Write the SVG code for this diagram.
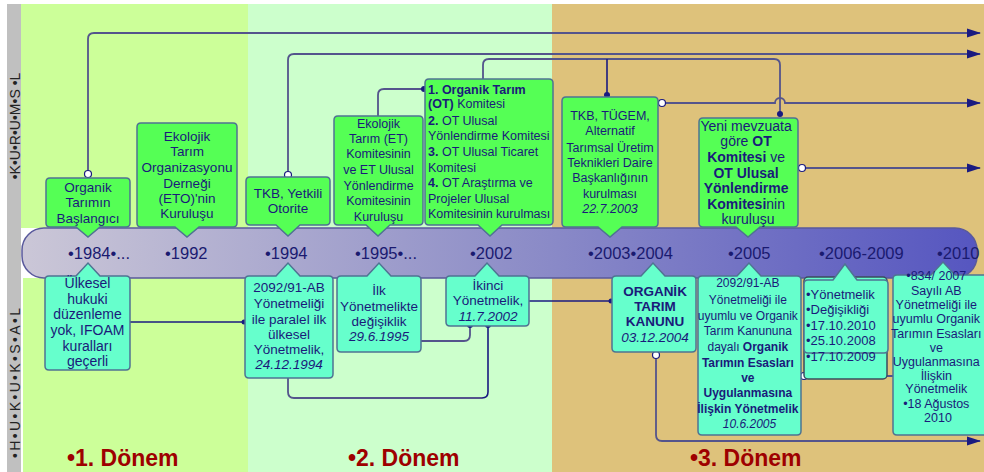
<svg xmlns="http://www.w3.org/2000/svg" width="984" height="472" viewBox="0 0 984 472">
<style>
.t{font-family:"Liberation Sans",Arial,sans-serif;fill:#1a1a7a}
.up{fill:#55ff55;stroke:#4f7392;stroke-width:1.5}
.lo{fill:#66ffcc;stroke:#4f7392;stroke-width:1.5}
.c{fill:none;stroke:#54548c;stroke-width:1.8}
.cd{fill:none;stroke:#1a1a80;stroke-width:1.6}
.dot{fill:#1a1a80}
.oc{fill:#ffffff;stroke:#1a1a80;stroke-width:1.2}
.yr{font-family:"Liberation Sans",Arial,sans-serif;font-size:16.5px;fill:#1a1a70}
.era{font-family:"Liberation Sans",Arial,sans-serif;font-size:23px;font-weight:bold;fill:#9e0000}
.side{font-family:"Liberation Sans",Arial,sans-serif;font-size:14px;fill:#222}
.b{font-weight:bold}
.i{font-style:italic}
</style>
<defs>
<linearGradient id="bar" x1="22" y1="0" x2="977" y2="0" gradientUnits="userSpaceOnUse">
<stop offset="0" stop-color="#cbc7d7"/>
<stop offset="0.5" stop-color="#9090c8"/>
<stop offset="1" stop-color="#5656c0"/>
</linearGradient>
<marker id="arr" markerUnits="userSpaceOnUse" markerWidth="14" markerHeight="10" refX="13" refY="5" orient="auto">
<path d="M0,0.5 L14,5 L0,9.5 z" fill="#1a1a80"/>
</marker>
</defs>
<g id="background">
<rect x="0" y="0" width="984" height="472" fill="#ffffff"/>
<rect x="7" y="4" width="14" height="468" fill="#c0c0c0"/>
<rect x="21" y="4" width="227" height="224" fill="#ccff99"/>
<rect x="23" y="278" width="225" height="194" fill="#ccff99"/>
<rect x="248" y="4" width="304" height="468" fill="#ccffcc"/>
<rect x="552" y="4" width="432" height="468" fill="#dec27b"/>
<text class="side" transform="translate(19.5,126) rotate(-90)" text-anchor="middle">•K•U•R•U•M•S •L</text>
<text class="side" transform="translate(19.5,383) rotate(-90)" text-anchor="middle" textLength="150" lengthAdjust="spacing">•H•U•K•U•K•S•A•L</text>
</g>
<g id="timeline">
<rect x="22" y="228" width="955" height="50" rx="22" fill="url(#bar)" stroke="#5a5a9c" stroke-width="1.5"/>
<text class="yr" x="68" y="259">•1984•...</text>
<text class="yr" x="165" y="259">•1992</text>
<text class="yr" x="265" y="259">•1994</text>
<text class="yr" x="355" y="259">•1995•...</text>
<text class="yr" x="470" y="259">•2002</text>
<text class="yr" x="588" y="259">•2003•2004</text>
<text class="yr" x="728" y="259">•2005</text>
<text class="yr" x="819" y="259">•2006-2009</text>
<text class="yr" x="937" y="259">•2010</text>
</g>
<g id="connectors">
<path class="c" d="M88,174 V39 Q88,33 94,33 H980" marker-end="url(#arr)"/>
<path class="c" d="M288,175 V60 Q288,54 294,54 H980" marker-end="url(#arr)"/>
<path class="c" d="M483,79 V65 Q483,59 489,59 H774 Q780,59 780,65 V114"/>
<path class="cd" d="M607,59 V95"/>
<path class="c" d="M662,103 H775 A5,5 0 0 1 785,103 H980" marker-end="url(#arr)"/>
<path class="c" d="M802,168 H980" marker-end="url(#arr)"/>
<path class="c" d="M378,116 V95 Q378,89 384,89 H424"/>
<path class="cd" d="M130,322 H244"/>
<path class="c" d="M288,378 V392 Q288,398 294,398 H482"/>
<path class="cd" d="M482,398 Q488,398 488,392 V326"/>
<path class="c" d="M421,341 H464 Q470,341 470,335 V325"/>
<path class="cd" d="M529,301 H611"/>
<path class="c" d="M656,355 V435 Q656,441 662,441 H980" marker-end="url(#arr)"/>
<path class="c" d="M801,376 H893"/>
<circle class="oc" cx="88" cy="174" r="3.5"/>
<circle class="oc" cx="288" cy="175" r="3.5"/>
<circle class="dot" cx="780" cy="114" r="3"/>
<circle class="dot" cx="607" cy="95" r="3"/>
<circle class="oc" cx="662" cy="103" r="3.5"/>
<circle class="oc" cx="802" cy="168" r="3.5"/>
<circle class="dot" cx="424" cy="89" r="3"/>
<circle class="dot" cx="244" cy="322" r="2.5"/>
<circle class="dot" cx="488" cy="325" r="3"/>
<circle class="dot" cx="470" cy="325" r="3"/>
<circle class="dot" cx="611" cy="301" r="2.5"/>
<circle class="oc" cx="656" cy="355" r="3.5"/>
<circle class="oc" cx="804" cy="376" r="3.5"/>
</g>
<g id="n1">
<path class="up" d="M50,178 H126 Q130,178 130,182 V223 Q130,227 126,227 H100 L88,237 L76,227 H50 Q46,227 46,223 V182 Q46,178 50,178 Z"/>
<text class="t" font-size="13.5" text-anchor="middle"><tspan x="88" y="192">Organik</tspan><tspan x="88" y="207">Tarımın</tspan><tspan x="88" y="223">Başlangıcı</tspan></text>
</g>
<g id="n2">
<path class="up" d="M141,123 H233 Q237,123 237,127 V223 Q237,227 233,227 H199 L187,237 L175,227 H141 Q137,227 137,223 V127 Q137,123 141,123 Z"/>
<text class="t" font-size="13.5" text-anchor="middle"><tspan x="187" y="141">Ekolojik</tspan><tspan x="187" y="156">Tarım</tspan><tspan x="187" y="172">Organizasyonu</tspan><tspan x="187" y="188">Derneği</tspan><tspan x="187" y="203">(ETO)'nin</tspan><tspan x="187" y="218">Kuruluşu</tspan></text>
</g>
<g id="n3">
<path class="up" d="M250,177 H326 Q330,177 330,181 V221 Q330,225 326,225 H300 L288,236 L276,225 H250 Q246,225 246,221 V181 Q246,177 250,177 Z"/>
<text class="t" font-size="13.5" text-anchor="middle"><tspan x="288" y="198">TKB, Yetkili</tspan><tspan x="288" y="213">Otorite</tspan></text>
</g>
<g id="n4">
<path class="up" d="M338,116 H419 Q423,116 423,120 V221 Q423,225 419,225 H390 L378,236 L366,225 H338 Q334,225 334,221 V120 Q334,116 338,116 Z"/>
<text class="t" font-size="12.5" text-anchor="middle"><tspan x="378.5" y="128">Ekolojik</tspan><tspan x="378.5" y="143">Tarım (ET)</tspan><tspan x="378.5" y="158">Komitesinin</tspan><tspan x="378.5" y="174">ve ET Ulusal</tspan><tspan x="378.5" y="190">Yönlendirme</tspan><tspan x="378.5" y="205">Komitesinin</tspan><tspan x="378.5" y="221">Kuruluşu</tspan></text>
</g>
<g id="n5">
<path class="up" d="M429,79 H549 Q553,79 553,83 V221 Q553,225 549,225 H502 L490,236 L478,225 H429 Q425,225 425,221 V83 Q425,79 429,79 Z"/>
<text class="t" font-size="12.5">
<tspan x="428" y="94" class="b">1. Organik Tarım</tspan>
<tspan x="428" y="108"><tspan class="b">(OT)</tspan> Komitesi</tspan>
<tspan x="428" y="125"><tspan class="b">2.</tspan> OT Ulusal</tspan>
<tspan x="428" y="140">Yönlendirme Komitesi</tspan>
<tspan x="428" y="156"><tspan class="b">3.</tspan> OT Ulusal Ticaret</tspan>
<tspan x="428" y="172">Komitesi</tspan>
<tspan x="428" y="187"><tspan class="b">4.</tspan> OT Araştırma ve</tspan>
<tspan x="428" y="203">Projeler Ulusal</tspan>
<tspan x="428" y="218">Komitesinin kurulması</tspan>
</text>
</g>
<g id="n6">
<path class="up" d="M566,97 H654 Q658,97 658,101 V223 Q658,227 654,227 H622 L610,237 L598,227 H566 Q562,227 562,223 V101 Q562,97 566,97 Z"/>
<text class="t" font-size="12.5" text-anchor="middle"><tspan x="610" y="120">TKB, TÜGEM,</tspan><tspan x="610" y="135">Alternatif</tspan><tspan x="610" y="152">Tarımsal Üretim</tspan><tspan x="610" y="167">Teknikleri Daire</tspan><tspan x="610" y="182">Başkanlığının</tspan><tspan x="610" y="198">kurulması</tspan><tspan x="610" y="213" class="i">22.7.2003</tspan></text>
</g>
<g id="n7">
<path class="up" d="M703,118 H794 Q798,118 798,122 V223 Q798,227 794,227 H760 L748,237 L736,227 H703 Q699,227 699,223 V122 Q699,118 703,118 Z"/>
<text class="t" font-size="14" text-anchor="middle">
<tspan x="748" y="131">Yeni mevzuata</tspan>
<tspan x="748" y="146">göre <tspan class="b">OT</tspan></tspan>
<tspan x="748" y="162"><tspan class="b">Komitesi</tspan> ve</tspan>
<tspan x="748" y="178" class="b">OT Ulusal</tspan>
<tspan x="748" y="193" class="b">Yönlendirme</tspan>
<tspan x="748" y="209"><tspan class="b">Komitesi</tspan>nin</tspan>
<tspan x="748" y="224">kuruluşu</tspan>
</text>
</g>
<g id="nA">
<path class="lo" d="M49,276 H76 L88,263 L100,276 H126 Q130,276 130,280 V366 Q130,370 126,370 H49 Q45,370 45,366 V280 Q45,276 49,276 Z"/>
<text class="t" font-size="14" text-anchor="middle"><tspan x="87.5" y="288">Ülkesel</tspan><tspan x="87.5" y="304">hukuki</tspan><tspan x="87.5" y="319">düzenleme</tspan><tspan x="87.5" y="335">yok, IFOAM</tspan><tspan x="87.5" y="351">kuralları</tspan><tspan x="87.5" y="366">geçerli</tspan></text>
</g>
<g id="nB">
<path class="lo" d="M249,276 H276 L288,263 L300,276 H329 Q333,276 333,280 V374 Q333,378 329,378 H249 Q245,378 245,374 V280 Q245,276 249,276 Z"/>
<text class="t" font-size="13.5" text-anchor="middle"><tspan x="289" y="292">2092/91-AB</tspan><tspan x="289" y="308">Yönetmeliği</tspan><tspan x="289" y="324">ile paralel ilk</tspan><tspan x="289" y="339">ülkesel</tspan><tspan x="289" y="354">Yönetmelik,</tspan><tspan x="289" y="369" class="i">24.12.1994</tspan></text>
</g>
<g id="nC">
<path class="lo" d="M341,276 H367 L379,263 L391,276 H417 Q421,276 421,280 V348 Q421,352 417,352 H341 Q337,352 337,348 V280 Q337,276 341,276 Z"/>
<text class="t" font-size="13.5" text-anchor="middle"><tspan x="379" y="295">İlk</tspan><tspan x="379" y="311">Yönetmelikte</tspan><tspan x="379" y="326">değişiklik</tspan><tspan x="379" y="341" class="i">29.6.1995</tspan></text>
</g>
<g id="nD">
<path class="lo" d="M450,276 H475 L487,263 L499,276 H525 Q529,276 529,280 V322 Q529,326 525,326 H450 Q446,326 446,322 V280 Q446,276 450,276 Z"/>
<text class="t" font-size="13.5" text-anchor="middle"><tspan x="488" y="290">İkinci</tspan><tspan x="488" y="305">Yönetmelik,</tspan><tspan x="488" y="321" class="i">11.7.2002</tspan></text>
</g>
<g id="nE">
<path class="lo" d="M616,276 H641 L653,263 L665,276 H692 Q696,276 696,280 V348 Q696,352 692,352 H616 Q612,352 612,348 V280 Q612,276 616,276 Z"/>
<text class="t" font-size="13.5" text-anchor="middle"><tspan x="655" y="296" class="b">ORGANİK</tspan><tspan x="655" y="311" class="b">TARIM</tspan><tspan x="655" y="326" class="b">KANUNU</tspan><tspan x="655" y="342" class="i">03.12.2004</tspan></text>
</g>
<g id="nF">
<path class="lo" d="M702,276 H737 L749,263 L761,276 H797 Q801,276 801,280 V431 Q801,435 797,435 H702 Q698,435 698,431 V280 Q698,276 702,276 Z"/>
<text class="t" font-size="12" text-anchor="middle">
<tspan x="749.5" y="287">2092/91-AB</tspan>
<tspan x="749.5" y="304">Yönetmeliği ile</tspan>
<tspan x="749.5" y="320">uyumlu ve Organik</tspan>
<tspan x="749.5" y="335">Tarım Kanununa</tspan>
<tspan x="749.5" y="351">dayalı <tspan class="b">Organik</tspan></tspan>
<tspan x="749.5" y="367" class="b">Tarımın Esasları</tspan>
<tspan x="749.5" y="382" class="b">ve</tspan>
<tspan x="749.5" y="397" class="b">Uygulanmasına</tspan>
<tspan x="749.5" y="413" class="b">İlişkin Yönetmelik</tspan>
<tspan x="749.5" y="428" class="i">10.6.2005</tspan>
</text>
</g>
<g id="nG">
<rect x="804" y="277" width="83" height="102" rx="4" fill="#66ffcc" stroke="#3b4b5e" stroke-width="1.5"/>
<path class="lo" d="M808,280 H833 L845,264 L857,280 H884 Q888,280 888,284 V349 Q888,353 884,353 H808 Q804,353 804,349 V284 Q804,280 808,280 Z"/>
<text class="t" font-size="13"><tspan x="806" y="299">•Yönetmelik</tspan><tspan x="806" y="314">•Değişikliği</tspan><tspan x="806" y="330">•17.10.2010</tspan><tspan x="806" y="345">•25.10.2008</tspan><tspan x="806" y="361">•17.10.2009</tspan></text>
</g>
<g id="nH">
<path class="lo" d="M897,275 H931 L943,262 L955,275 H990 V435 H897 Q893,435 893,431 V279 Q893,275 897,275 Z"/>
<text class="t" font-size="12.5" text-anchor="middle">
<tspan x="938" y="280">•834/ 2007</tspan>
<tspan x="938" y="295">Sayılı AB</tspan>
<tspan x="938" y="309">Yönetmeliği ile</tspan>
<tspan x="938" y="323">uyumlu Organik</tspan>
<tspan x="938" y="338">Tarımın Esasları</tspan>
<tspan x="938" y="352">ve</tspan>
<tspan x="938" y="366">Uygulanmasına</tspan>
<tspan x="938" y="380">İlişkin</tspan>
<tspan x="938" y="393">Yönetmelik</tspan>
<tspan x="938" y="408">•18 Ağustos</tspan>
<tspan x="938" y="422">2010</tspan>
</text>
</g>
<g id="eras">
<text class="era" x="67" y="466">•1. Dönem</text>
<text class="era" x="348" y="466">•2. Dönem</text>
<text class="era" x="690" y="466">•3. Dönem</text>
</g>
</svg>
